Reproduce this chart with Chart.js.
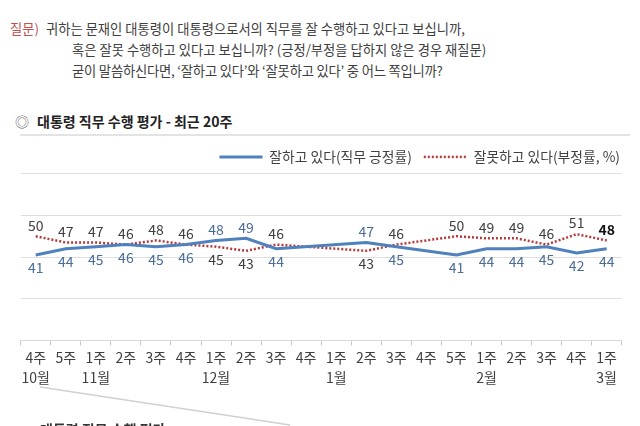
<!DOCTYPE html>
<html>
<head>
<meta charset="utf-8">
<script src="https://cdn.jsdelivr.net/npm/chart.js@4/dist/chart.umd.min.js"></script>
<style>
  html, body { margin: 0; padding: 0; background: #fff; }
  body { width: 640px; height: 426px; position: relative; overflow: hidden;
         font-family: "Noto Sans CJK KR", "Noto Sans", sans-serif; color: #404040; }
  .q { position: absolute; font-size: 13.3px; line-height: 21px; white-space: nowrap; }
  .q .red { color: #c0504d; margin-right: 4px; }
  #title { position: absolute; left: 15px; top: 111px; font-size: 14px; font-weight: bold; color: #222; white-space: nowrap; }
  #title .mark { font-weight: normal; color: #666; margin-right: 8px; }
  #rule { position: absolute; left: 20px; top: 134px; width: 610px; height: 2px; background: #e3e3e3; }
  #wrap { position: absolute; left: 0; top: 140px; width: 640px; height: 250px; }
  #diag { position: absolute; left: 0; top: 0; }
  #next { position: absolute; left: 40px; top: 419px; font-size: 14px; font-weight: bold; color: #333; white-space: nowrap; }
</style>
</head>
<body>
<div class="q" style="left:10px; top:18px;"><span class="red">질문)</span> 귀하는 문재인 대통령이 대통령으로서의 직무를 잘 수행하고 있다고 보십니까,</div>
<div class="q" style="left:72px; top:39px;">혹은 잘못 수행하고 있다고 보십니까? (긍정/부정을 답하지 않은 경우 재질문)</div>
<div class="q" style="left:72px; top:60px; letter-spacing:-0.2px;">굳이 말씀하신다면, ‘잘하고 있다’와 ‘잘못하고 있다’ 중 어느 쪽입니까?</div>
<div id="title"><span class="mark">◎</span>대통령 직무 수행 평가 - 최근 20주</div>
<div id="rule"></div>
<div id="wrap"><canvas id="c" width="640" height="250"></canvas></div>
<svg id="diag" width="640" height="426"><line x1="40" y1="387" x2="290" y2="425" stroke="#d0d0d0" stroke-width="1.5"/></svg>
<div id="next">대통령 직무 수행 평가</div>
<script>
const weeks = ["4주","5주","1주","2주","3주","4주","1주","2주","3주","4주","1주","2주","3주","4주","5주","1주","2주","3주","4주","1주"];
const months = ["10월","","11월","","","","12월","","","","1월","","","","","2월","","","","3월"];
const approve = [41,44,45,46,45,46,48,49,44,null,null,47,45,null,41,44,44,45,42,44];
const disapprove = [50,47,47,46,48,46,45,43,46,null,null,43,46,null,50,49,49,46,51,48];
const seriesNames = ["잘하고 있다(직무 긍정률)", "잘못하고 있다(부정률, %)"];

const labels = weeks.map((w, i) => [w, months[i]]);
const BLUE = "#4f81bd", RED = "#b5393a";
const FONT = '"Noto Sans CJK KR", "Noto Sans", sans-serif';

const valueLabels = {
  id: "valueLabels",
  afterDatasetsDraw(chart) {
    const ctx = chart.ctx;
    const mA = chart.getDatasetMeta(0), mD = chart.getDatasetMeta(1);
    ctx.save();
    ctx.textAlign = "center";
    ctx.textBaseline = "middle";
    for (let i = 0; i < approve.length; i++) {
      const a = approve[i], d = disapprove[i];
      if (a == null || d == null) continue;
      const redAbove = d >= a;
      const pa = mA.data[i], pd = mD.data[i];
      const last = i === approve.length - 1;
      ctx.font = "14px " + FONT;
      ctx.fillStyle = "#4a6d9a";
      ctx.fillText(String(a), pa.x, redAbove ? pa.y + 13 : pa.y - 11);
      ctx.font = (last ? "bold " : "") + "14px " + FONT;
      ctx.fillStyle = last ? "#111" : "#404040";
      ctx.fillText(String(d), pd.x, redAbove ? pd.y - 11 : pd.y + 13);
    }
    ctx.restore();
  }
};

new Chart(document.getElementById("c"), {
  type: "line",
  data: {
    labels: labels,
    datasets: [
      { label: seriesNames[0], data: approve, borderColor: BLUE, borderWidth: 3,
        pointRadius: 0, tension: 0, spanGaps: true, fill: false },
      { label: seriesNames[1], data: disapprove, borderColor: RED, borderWidth: 2.5,
        borderDash: [2, 2], pointRadius: 0, tension: 0, spanGaps: true, fill: false }
    ]
  },
  options: {
    responsive: false,
    animation: false,
    layout: { padding: { left: 0, right: 8, top: -2, bottom: 0 } },
    plugins: {
      tooltip: { enabled: false },
      legend: {
        display: true,
        position: "top",
        align: "end",
        labels: {
          font: { size: 13.8, family: FONT },
          color: "#404040",
          usePointStyle: true,
          pointStyleWidth: 43,
          padding: 12,
          generateLabels(chart) {
            return chart.data.datasets.map((ds, i) => ({
              text: ds.label,
              datasetIndex: i,
              pointStyle: "line",
              strokeStyle: ds.borderColor,
              fillStyle: ds.borderColor,
              lineWidth: i === 0 ? 3 : 2.5,
              lineDash: i === 0 ? [] : [2, 2],
              fontColor: "#404040",
              hidden: false
            }));
          }
        }
      }
    },
    scales: {
      x: {
        offset: true,
        grid: { offset: true, drawOnChartArea: false, drawTicks: true, tickLength: 5, color: "#c8c8c8" },
        border: { display: true, color: "#d9d9d9" },
        ticks: { color: "#404040", font: { size: 14, family: FONT, lineHeight: 1.38 }, padding: 3,
                 maxRotation: 0, autoSkip: false }
      },
      y: {
        min: 0, max: 80,
        ticks: { display: false, stepSize: 20 },
        grid: { color: "#dedede", drawTicks: false },
        border: { display: false },
        afterFit(s) { s.width = 20.7; }
      },
      yRight: {
        position: "right",
        min: 0, max: 80,
        display: true,
        ticks: { display: false },
        grid: { display: false, drawTicks: false },
        border: { display: false },
        afterFit(s) { s.width = 10.3; }
      }
    }
  },
  plugins: [valueLabels]
});
</script>
</body>
</html>
